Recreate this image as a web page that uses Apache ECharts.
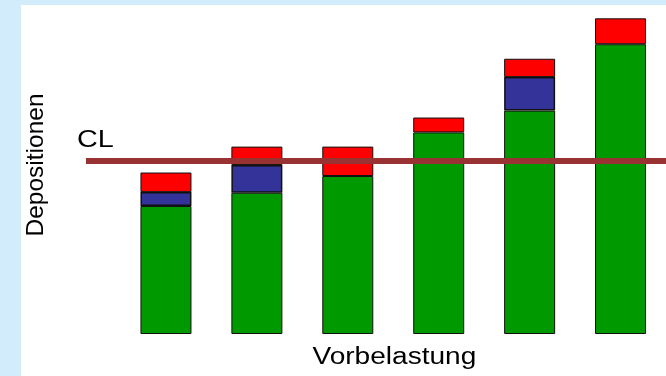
<!DOCTYPE html>
<html>
<head>
<meta charset="utf-8">
<script src="https://cdn.jsdelivr.net/npm/echarts@6/dist/echarts.min.js"></script>
<style>
  html, body { margin: 0; padding: 0; background: #d3ecfc; }
  #chart { width: 666px; height: 376px; }
</style>
</head>
<body>
<div id="chart"></div>
<script>
// Six emission scenarios, stacked deposition shares
const categories = ['1', '2', '3', '4', '5', '6'];
const vorbelastung = [40.5, 44.7, 50.0, 63.8, 70.7, 91.7];   // background load (green)
const zusatzBlau   = [4.4, 8.8, null, null, 10.6, null];      // additional load (blue)
const zusatzRot    = [6.2, 5.8, 9.3, 4.7, 5.8, 8.2];         // additional load (red)
const criticalLoad = 54.8;                                    // CL threshold

const chart = echarts.init(document.getElementById('chart'), null, { renderer: 'canvas' });

const barStyle = (color) => ({ color: color, borderColor: '#111111', borderWidth: 1 });

chart.setOption({
  backgroundColor: '#d3ecfc',
  animation: false,
  grid: { left: 120.5, top: 18, width: 551.5, height: 316 },
  xAxis: {
    type: 'category',
    data: categories,
    show: false
  },
  yAxis: {
    type: 'value',
    min: 0,
    max: 100,
    show: false
  },
  graphic: [
    {
      type: 'rect',
      z: -10,
      silent: true,
      shape: { x: 21, y: 5, width: 645, height: 371 },
      style: { fill: '#ffffff' }
    },
    {
      type: 'text',
      x: 77,
      y: 141,
      scaleX: 1.25,
      style: {
        text: 'CL',
        font: '23px "Liberation Sans", Arial, sans-serif',
        fill: '#000000',
        align: 'left',
        verticalAlign: 'middle'
      }
    },
    {
      type: 'text',
      x: 312.5,
      y: 357.7,
      scaleX: 1.22,
      style: {
        text: 'Vorbelastung',
        font: '23px "Liberation Sans", Arial, sans-serif',
        fill: '#000000',
        align: 'left',
        verticalAlign: 'middle'
      }
    },
    {
      type: 'text',
      x: 36.5,
      y: 165,
      rotation: Math.PI / 2,
      style: {
        text: 'Depositionen',
        font: '24.5px "Liberation Sans", Arial, sans-serif',
        fill: '#000000',
        align: 'center',
        verticalAlign: 'middle'
      }
    }
  ],
  series: [
    {
      name: 'Vorbelastung',
      type: 'bar',
      stack: 'dep',
      barWidth: 51,
      data: vorbelastung,
      itemStyle: barStyle('#009900')
    },
    {
      name: 'Zusatz 1',
      type: 'bar',
      stack: 'dep',
      barWidth: 51,
      data: zusatzBlau,
      itemStyle: Object.assign(barStyle('#333399'), { borderWidth: 1.5 })
    },
    {
      name: 'Zusatz 2',
      type: 'bar',
      stack: 'dep',
      barWidth: 51,
      data: zusatzRot,
      itemStyle: barStyle('#ff0000'),
      markLine: {
        silent: true,
        symbol: ['none', 'none'],
        z: 10,
        label: { show: false },
        lineStyle: { color: '#993333', width: 6, type: 'solid', opacity: 1 },
        data: [
          [
            { x: 86, yAxis: criticalLoad },
            { x: 680, yAxis: criticalLoad }
          ]
        ]
      }
    }
  ]
});
</script>
</body>
</html>
